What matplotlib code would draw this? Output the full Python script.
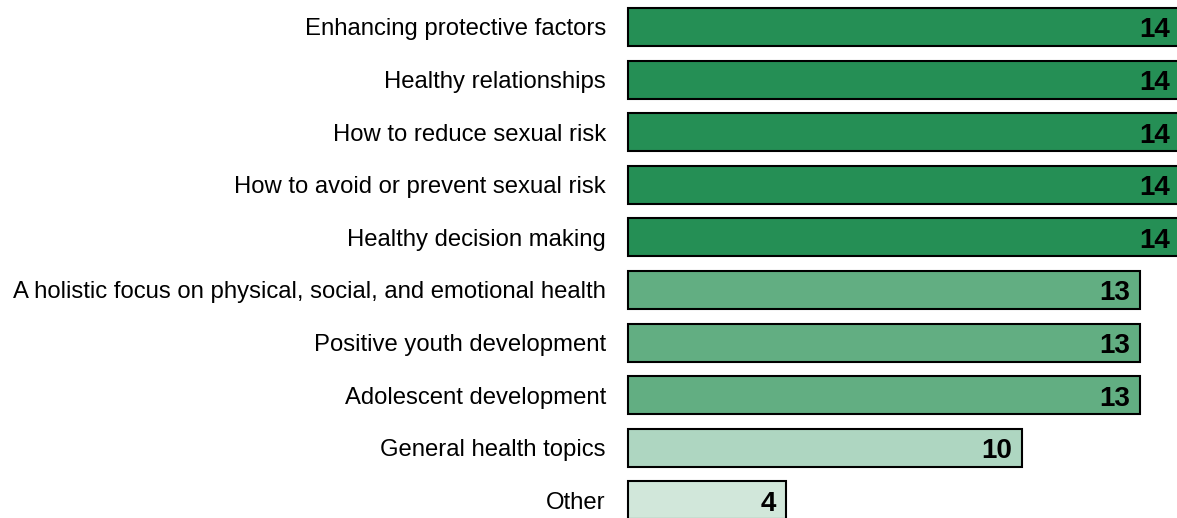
import matplotlib
matplotlib.use("Agg")
import matplotlib.pyplot as plt

categories = ["Enhancing protective factors", "Healthy relationships", "How to reduce sexual risk",
              "How to avoid or prevent sexual risk", "Healthy decision making",
              "A holistic focus on physical, social, and emotional health",
              "Positive youth development", "Adolescent development",
              "General health topics", "Other"]
values = [14, 14, 14, 14, 14, 13, 13, 13, 10, 4]
colors = ["#258F55"] * 5 + ["#62AE82"] * 3 + ["#AED6C1", "#D1E7DA"]

plt.rcParams['font.family'] = ['Liberation Sans', 'DejaVu Sans']
fig = plt.figure(figsize=(11.77, 5.18), dpi=100)
ax = fig.add_axes([628/1177, 0, 1 - 628/1177, 1])
ys = list(range(len(categories)))
bars = ax.barh(ys, values, height=0.72, color=colors, edgecolor="black", linewidth=1.5)
for b in bars:
    b.set_clip_on(False)
ax.set_xlim(0, 13.94)
ax.set_ylim(9.335, -0.513)
for y, v in zip(ys, values):
    ax.annotate(str(v), (v, y), xytext=(-7, -2.5), textcoords="offset points",
                ha="right", va="center", fontsize=20, fontweight="bold", color="black",
                annotation_clip=False)
ax.set_yticks(ys)
ax.set_yticklabels(categories, fontsize=17.2)
ax.tick_params(axis="y", length=0, pad=16)
ax.set_xticks([])
for s in ax.spines.values():
    s.set_visible(False)
fig.savefig("out.png", dpi=100)
